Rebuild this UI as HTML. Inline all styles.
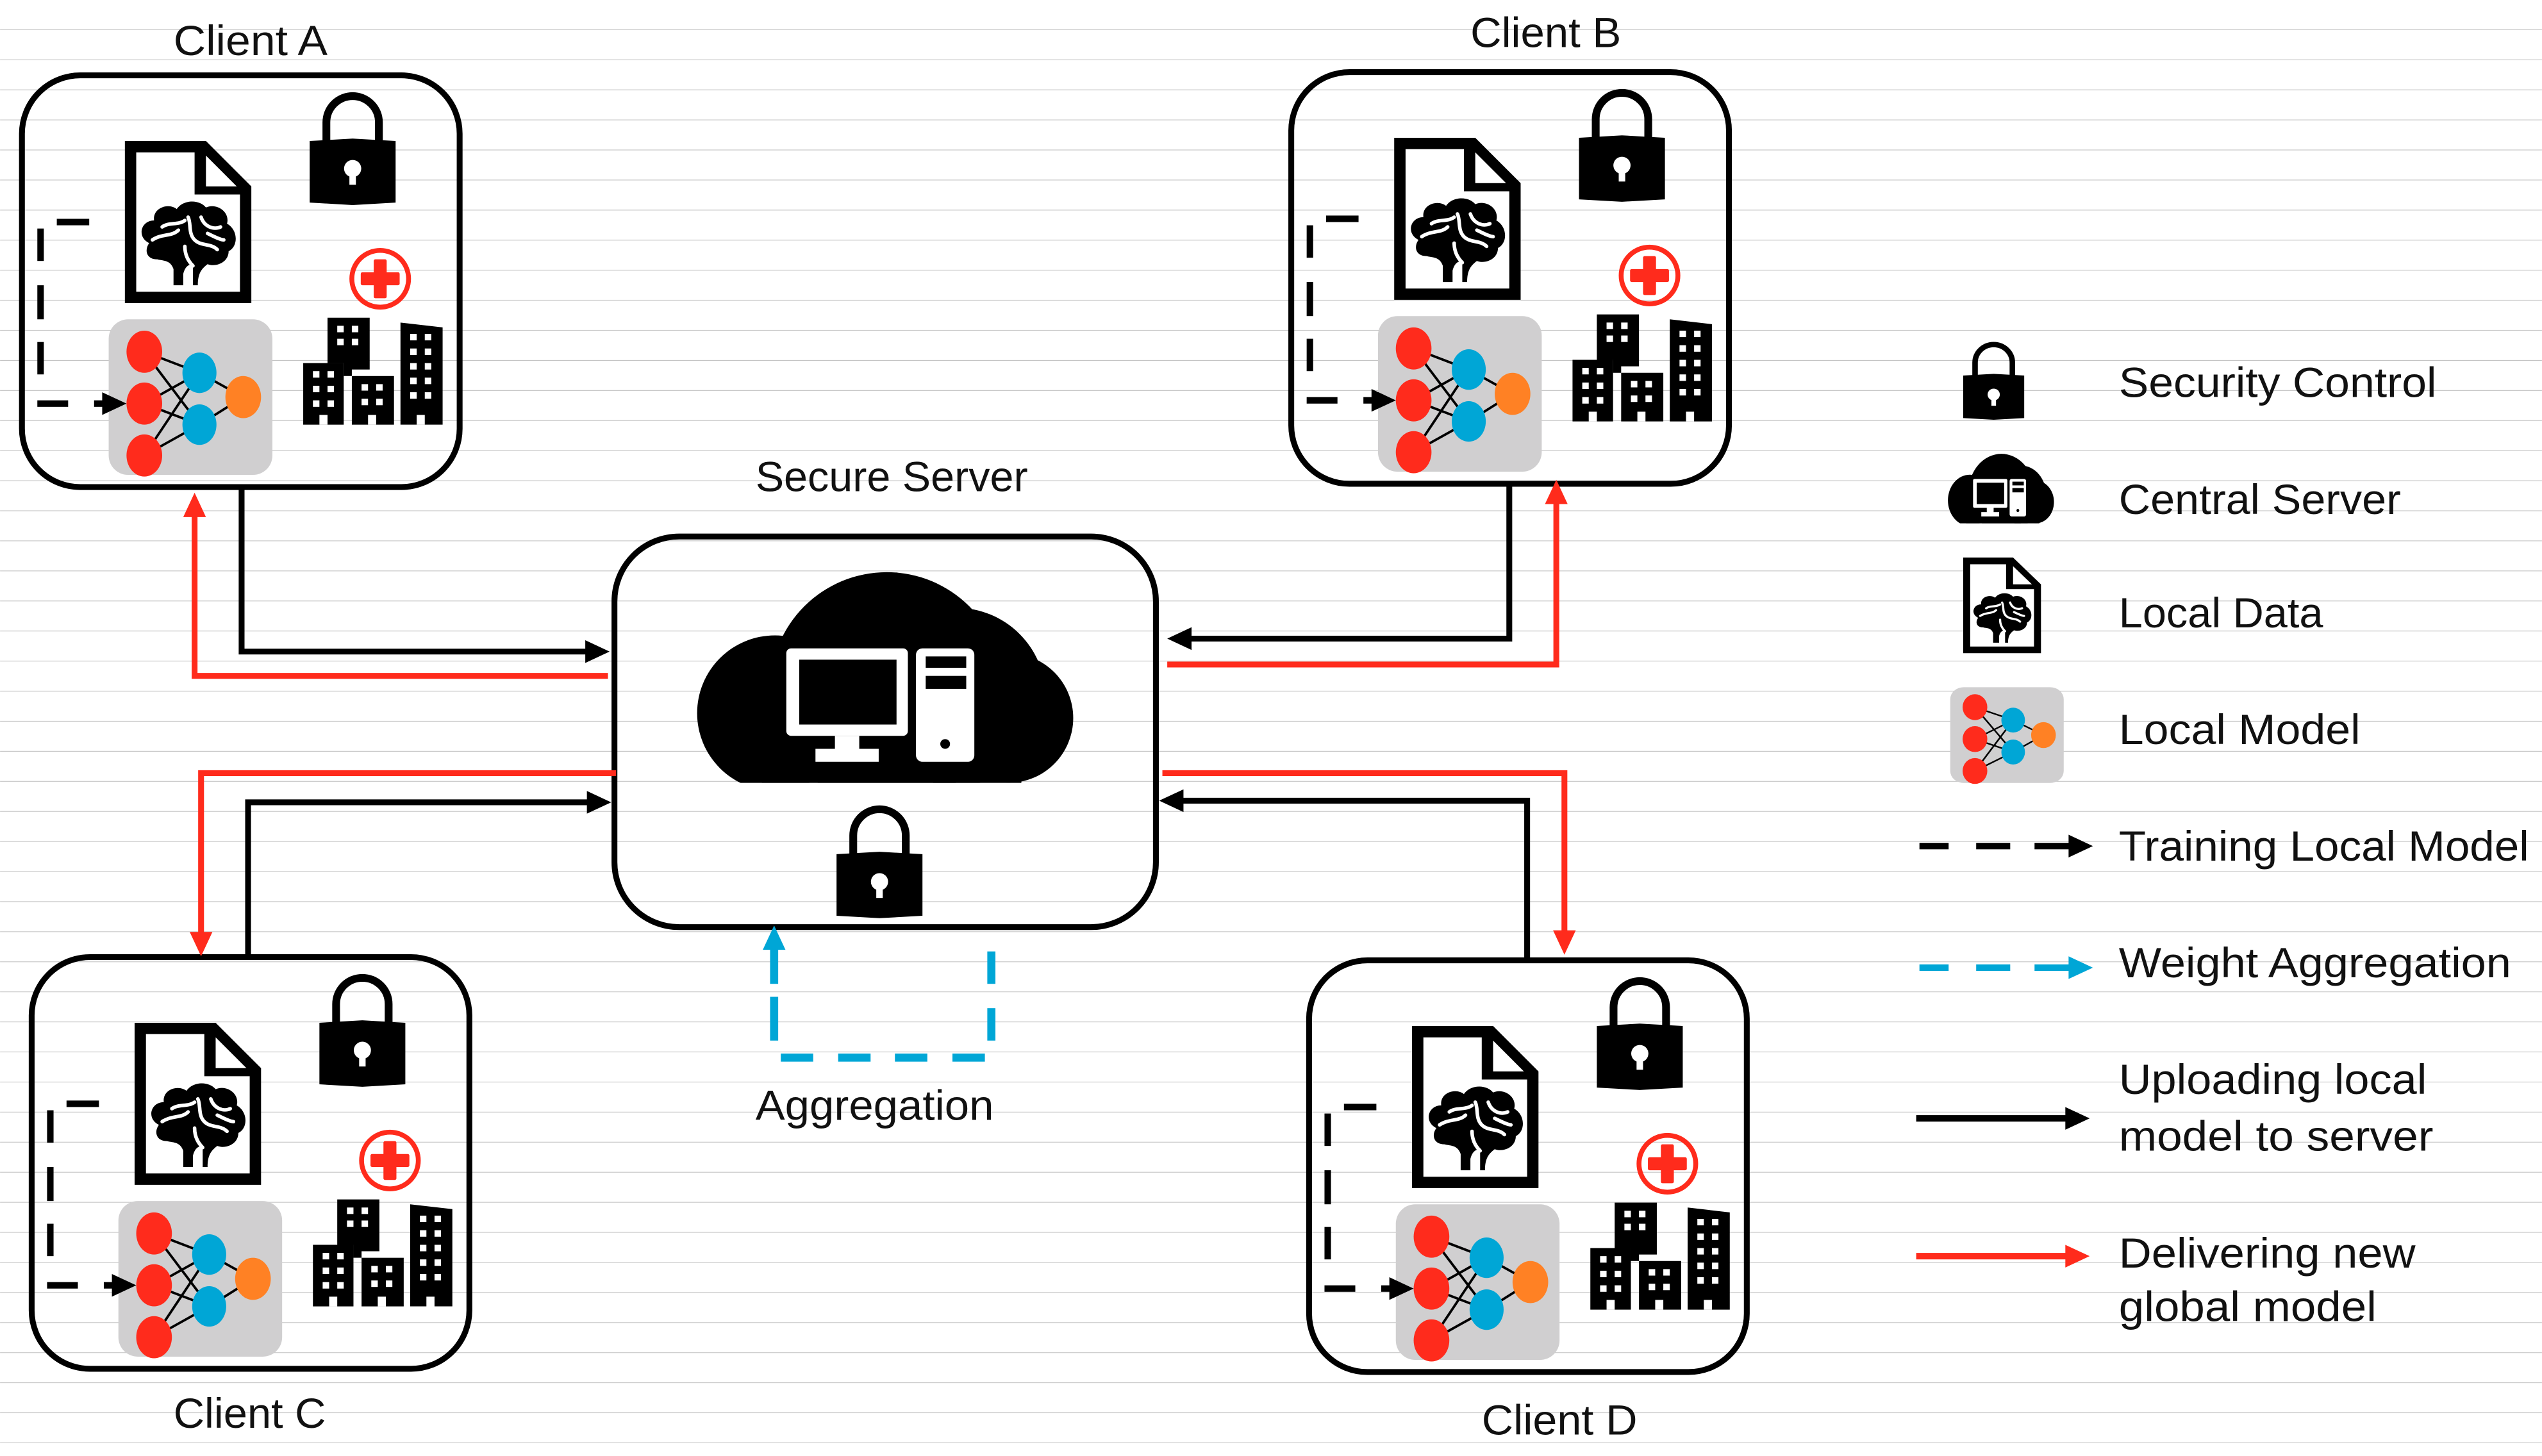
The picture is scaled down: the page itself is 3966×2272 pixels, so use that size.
<!DOCTYPE html>
<html><head><meta charset="utf-8"><style>
html,body{margin:0;padding:0;background:#fff}
svg{display:block}
text{font-family:"Liberation Sans",sans-serif;fill:#111}
</style></head><body>
<svg width="3966" height="2272" viewBox="0 0 1568 898.3" xmlns="http://www.w3.org/2000/svg">
<defs>
<pattern id="rule" width="1568" height="18.55" patternUnits="userSpaceOnUse">
<rect x="0" y="18.1" width="1568" height="0.45" fill="#c4c4c4"/>
</pattern>
<g id="lock">
<path d="M10.3,32 V18.5 A16.2,16.2 0 0 1 42.7,18.5 V32" fill="none" stroke="#000" stroke-width="4.8"/>
<path d="M0,30 L26.5,28.5 L53,30 V68 L26.5,69.5 L0,68 Z" fill="#000"/>
<circle cx="26.5" cy="47" r="5.3" fill="#fff"/>
<rect x="24.5" y="48" width="4" height="9" fill="#fff"/>
</g>
<g id="doc">
<path d="M0,0 H50 L78,28 V100 H0 Z" fill="#000"/>
<path d="M7,7 H43 V33 H71 V93 H7 Z" fill="#fff"/>
<path d="M50,9 L69,28 H50 Z" fill="#fff"/>
<g transform="translate(9,37)">
<path d="M6,26 C-2,22 1,12 9,12 C8,4 18,1 23,5 C27,-1 37,-1 41,4 C48,1 56,7 54,14 C61,18 61,28 55,31 C55,38 47,41 42,39 C38,42 36,45 36,52 H33 V39 C30,39 28,41 27,45 V52 H21 V42 C19,36 14,37 11,36 C4,36 3,30 6,26 Z" fill="#000"/>
<path d="M8,24 C14,20 20,22 24,18 M14,16 C18,13 24,15 28,12 M30,10 C32,14 30,20 34,24 M38,10 C40,16 46,18 50,16 M34,24 C38,28 44,26 48,30 M28,28 C28,34 31,38 33,40 M42,20 C46,22 50,24 52,24" fill="none" stroke="#fff" stroke-width="2.2" stroke-linecap="round"/>
</g>
</g>
<g id="model">
<rect x="0" y="0" width="101" height="96" rx="12" fill="#d0cfd0"/>
<g stroke="#000" stroke-width="1.5" fill="none">
<line x1="22" y1="20" x2="56" y2="33"/><line x1="22" y1="20" x2="56" y2="65"/>
<line x1="22" y1="52" x2="56" y2="33"/><line x1="22" y1="52" x2="56" y2="65"/>
<line x1="22" y1="84" x2="56" y2="33"/><line x1="22" y1="84" x2="56" y2="65"/>
<line x1="56" y1="33" x2="83" y2="48"/><line x1="56" y1="65" x2="83" y2="48"/>
</g>
<ellipse cx="22" cy="20" rx="11" ry="13" fill="#ff2b1c"/>
<ellipse cx="22" cy="52" rx="11" ry="13" fill="#ff2b1c"/>
<ellipse cx="22" cy="84" rx="11" ry="13" fill="#ff2b1c"/>
<ellipse cx="56" cy="33" rx="10.5" ry="12.5" fill="#00a6d6"/>
<ellipse cx="56" cy="65" rx="10.5" ry="12.5" fill="#00a6d6"/>
<ellipse cx="83" cy="48" rx="11" ry="13" fill="#ff8124"/>
</g>
<clipPath id="cclip"><rect x="400" y="340" width="300" height="143"/></clipPath>
<g id="cloud">
<g clip-path="url(#cclip)" fill="#000">
<circle cx="478" cy="440" r="48"/>
<circle cx="547" cy="425" r="72"/>
<circle cx="590" cy="430" r="55"/>
<circle cx="622" cy="443" r="40"/>
<rect x="470" y="430" width="160" height="60"/>
</g>
<rect x="485" y="400" width="75" height="54" rx="3" fill="#fff"/>
<rect x="493" y="407" width="60" height="40" fill="#000"/>
<rect x="515" y="454" width="15" height="9" fill="#fff"/>
<rect x="503" y="462" width="39" height="8" fill="#fff"/>
<rect x="565" y="400" width="36" height="70" rx="4" fill="#fff"/>
<rect x="571" y="405" width="25" height="7" fill="#000"/>
<rect x="571" y="417" width="25" height="8" fill="#000"/>
<circle cx="583" cy="459" r="3" fill="#000"/>
</g>
<g id="client">
<rect x="13.5" y="46.5" width="270" height="254" rx="36" fill="none" stroke="#000" stroke-width="3.6"/>
<use href="#doc" transform="translate(77,87)"/>
<use href="#lock" transform="translate(191,57)"/>
<circle cx="234.5" cy="172" r="17.5" fill="none" stroke="#ff2b1c" stroke-width="3"/>
<rect x="230.5" y="160" width="8" height="24" rx="1" fill="#ff2b1c"/>
<rect x="222.5" y="168" width="24" height="8" rx="1" fill="#ff2b1c"/>
<g fill="#000">
<rect x="187" y="224" width="25" height="38"/>
<path d="M202,196 H228 V228 H217 V232 H212 V224 H202 Z"/>
<rect x="217" y="232" width="26" height="30"/>
<path d="M247,199 L273,202 V262 H247 Z"/>
</g>
<g fill="#fff">
<rect x="193" y="229" width="4" height="4"/><rect x="202" y="229" width="4" height="4"/>
<rect x="193" y="238" width="4" height="4"/><rect x="202" y="238" width="4" height="4"/>
<rect x="193" y="247" width="4" height="4"/><rect x="202" y="247" width="4" height="4"/>
<rect x="197" y="256" width="5" height="6"/>
<rect x="208" y="201" width="4" height="4"/><rect x="217" y="201" width="4" height="4"/>
<rect x="208" y="209" width="4" height="4"/><rect x="217" y="209" width="4" height="4"/>
<rect x="223" y="237" width="4" height="4"/><rect x="232" y="237" width="4" height="4"/>
<rect x="223" y="246" width="4" height="4"/><rect x="232" y="246" width="4" height="4"/>
<rect x="227" y="256" width="5" height="6"/>
<rect x="253" y="206" width="4" height="4"/><rect x="262" y="206" width="4" height="4"/>
<rect x="253" y="215" width="4" height="4"/><rect x="262" y="215" width="4" height="4"/>
<rect x="253" y="224" width="4" height="4"/><rect x="262" y="224" width="4" height="4"/>
<rect x="253" y="233" width="4" height="4"/><rect x="262" y="233" width="4" height="4"/>
<rect x="253" y="242" width="4" height="4"/><rect x="262" y="242" width="4" height="4"/>
<rect x="257" y="256" width="5" height="6"/>
</g>
<use href="#model" transform="translate(67,197)"/>
<g fill="#000">
<rect x="35" y="135" width="20" height="4"/>
<rect x="23" y="141" width="4" height="20"/>
<rect x="23" y="176" width="4" height="21"/>
<rect x="23" y="211" width="4" height="20"/>
<rect x="23" y="247" width="19" height="4"/>
<rect x="58" y="247" width="6" height="4"/>
<path d="M63,242 L78,249 L63,256 Z"/>
</g>
</g>
</defs>
<rect width="1568" height="898.3" fill="#fff"/>
<rect width="1568" height="898.3" fill="url(#rule)"/>

<use href="#client"/>
<use href="#client" transform="translate(783,-2)"/>
<use href="#client" transform="translate(6,544)"/>
<use href="#client" transform="translate(794,546)"/>

<text x="107" y="34" font-size="26" textLength="95" lengthAdjust="spacingAndGlyphs">Client A</text>
<text x="907" y="29" font-size="26" textLength="93" lengthAdjust="spacingAndGlyphs">Client B</text>
<text x="107" y="881" font-size="26" textLength="94" lengthAdjust="spacingAndGlyphs">Client C</text>
<text x="914" y="885" font-size="26" textLength="96" lengthAdjust="spacingAndGlyphs">Client D</text>

<!-- server -->
<rect x="379" y="331" width="334" height="241" rx="40" fill="none" stroke="#000" stroke-width="3.6"/>
<use href="#cloud"/>
<use href="#lock" transform="translate(516,497)"/>
<text x="466" y="303" font-size="26" textLength="168" lengthAdjust="spacingAndGlyphs">Secure Server</text>
<text x="466" y="691" font-size="26" textLength="147" lengthAdjust="spacingAndGlyphs">Aggregation</text>

<!-- aggregation blue -->
<g fill="#00a6d6">
<path d="M470.5,586 L477.5,571 L484.5,586 Z"/>
<rect x="475" y="585" width="5" height="22"/>
<rect x="475" y="615" width="5" height="27"/>
<rect x="481.6" y="650" width="20" height="5"/>
<rect x="517" y="650" width="20" height="5"/>
<rect x="552" y="650" width="20" height="5"/>
<rect x="587.5" y="650" width="20" height="5"/>
<rect x="609" y="587" width="5" height="20"/>
<rect x="609" y="622" width="5" height="20"/>
</g>

<!-- connectors -->
<g fill="none" stroke-width="3.6" stroke-linejoin="miter">
<polyline points="149,302 149,402 363,402" stroke="#000"/>
<polyline points="375,417 120,417 120,316" stroke="#ff2b1c"/>
<polyline points="931,299 931,394 732,394" stroke="#000"/>
<polyline points="720,410 960,410 960,308" stroke="#ff2b1c"/>
<polyline points="380,477 124,477 124,578" stroke="#ff2b1c"/>
<polyline points="153,589 153,495 364,495" stroke="#000"/>
<polyline points="717,477 965,477 965,577" stroke="#ff2b1c"/>
<polyline points="942,591 942,494 727,494" stroke="#000"/>
</g>
<g>
<path d="M361,395 L376,402 L361,409 Z" fill="#000"/>
<path d="M113,319 L120,304 L127,319 Z" fill="#ff2b1c"/>
<path d="M735,387 L720,394 L735,401 Z" fill="#000"/>
<path d="M953,311 L960,296 L967,311 Z" fill="#ff2b1c"/>
<path d="M117,575 L124,590 L131,575 Z" fill="#ff2b1c"/>
<path d="M362,488 L377,495 L362,502 Z" fill="#000"/>
<path d="M958,574 L965,589 L972,574 Z" fill="#ff2b1c"/>
<path d="M730,487 L715,494 L730,501 Z" fill="#000"/>
</g>

<!-- legend -->
<use href="#lock" transform="translate(1211,211) scale(0.71,0.69)"/>
<use href="#cloud" transform="translate(1201,280) scale(0.282,0.33) translate(-428,-353)"/>
<use href="#doc" transform="translate(1211,344) scale(0.615,0.59)"/>
<use href="#model" transform="translate(1203,424) scale(0.693,0.615)"/>
<g fill="#000">
<rect x="1184" y="520" width="18" height="4"/>
<rect x="1219" y="520" width="21" height="4"/>
<rect x="1255" y="520" width="22" height="4"/>
<path d="M1276,515 L1291,522 L1276,529 Z"/>
</g>
<g fill="#00a6d6">
<rect x="1184" y="595" width="18" height="4"/>
<rect x="1219" y="595" width="21" height="4"/>
<rect x="1255" y="595" width="22" height="4"/>
<path d="M1276,590 L1291,597 L1276,604 Z"/>
</g>
<rect x="1182" y="688" width="94" height="4" fill="#000"/>
<path d="M1274,683 L1289,690 L1274,697 Z" fill="#000"/>
<rect x="1182" y="773" width="94" height="4" fill="#ff2b1c"/>
<path d="M1274,768 L1289,775 L1274,782 Z" fill="#ff2b1c"/>

<g font-size="26">
<text x="1307" y="245" textLength="196" lengthAdjust="spacingAndGlyphs">Security Control</text>
<text x="1307" y="317" textLength="174" lengthAdjust="spacingAndGlyphs">Central Server</text>
<text x="1307" y="387" textLength="126" lengthAdjust="spacingAndGlyphs">Local Data</text>
<text x="1307" y="459" textLength="149" lengthAdjust="spacingAndGlyphs">Local Model</text>
<text x="1307" y="531" textLength="253" lengthAdjust="spacingAndGlyphs">Training Local Model</text>
<text x="1307" y="603" textLength="242" lengthAdjust="spacingAndGlyphs">Weight Aggregation</text>
<text x="1307" y="675" textLength="190" lengthAdjust="spacingAndGlyphs">Uploading local</text>
<text x="1307" y="710" textLength="194" lengthAdjust="spacingAndGlyphs">model to server</text>
<text x="1307" y="782" textLength="183" lengthAdjust="spacingAndGlyphs">Delivering new</text>
<text x="1307" y="815" textLength="159" lengthAdjust="spacingAndGlyphs">global model</text>
</g>
</svg>
</body></html>
